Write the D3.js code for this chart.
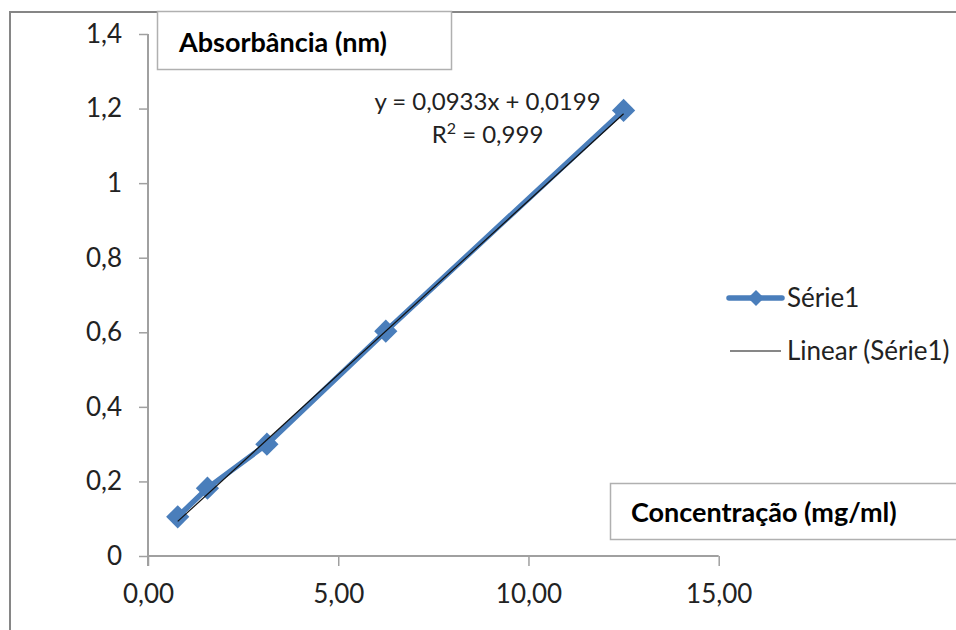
<!DOCTYPE html>
<html><head><meta charset="utf-8">
<script src="https://cdn.jsdelivr.net/npm/d3@7"></script>
<style>body{margin:0;background:#fff}svg{display:block}text{font-family:Lato,"Open Sans",sans-serif}</style>
</head><body><svg id="c" width="956" height="630"></svg>
<script>
const concentrations = [0.78125, 1.5625, 3.125, 6.25, 12.5];
const absorbances = [0.105, 0.182, 0.300, 0.603, 1.195];
const xTicks = [0, 5, 10, 15];
const yTicks = [0, 0.2, 0.4, 0.6, 0.8, 1, 1.2, 1.4];
const trendSlope = 0.0933, trendIntercept = 0.0199;
const equationText = "y = 0,0933x + 0,0199";
const r2Parts = ["R", "2", " = 0,999"];
const seriesName = "Série1", trendName = "Linear (Série1)";
const yTitle = "Absorbância (nm)", xTitle = "Concentração (mg/ml)";

const svg = d3.select("#c");
const blue = "#4a7ebb";
svg.append("rect").attr("x",10).attr("y",12).attr("width",980).attr("height",640)
  .attr("fill","#fff").attr("stroke","#868686").attr("stroke-width",2);

const x = d3.scaleLinear().domain([0,15]).range([148,718.7]);
const y = d3.scaleLinear().domain([0,1.4]).range([556,34]);
const fmtX = d => d3.format(".2f")(d).replace(".",",");
const fmtY = d => String(+d.toFixed(1)).replace(".",",");

const gx = svg.append("g").attr("transform","translate(0,556)")
  .call(d3.axisBottom(x).tickValues(xTicks).tickFormat(fmtX).tickSize(10).tickSizeOuter(0));
const gy = svg.append("g").attr("transform","translate(148,0)")
  .call(d3.axisLeft(y).tickValues(yTicks).tickFormat(fmtY).tickSize(9).tickPadding(17).tickSizeOuter(0));
[gx,gy].forEach(g=>{
  g.select(".domain").attr("stroke","#a0a0a0").attr("stroke-width",2);
  g.selectAll(".tick line").attr("stroke","#a0a0a0").attr("stroke-width",1.5);
  g.selectAll(".tick text").attr("fill","#222").style("font-size","26px").style("font-family","Lato,sans-serif");
});
gx.select(".domain").attr("d","M"+x(0)+",0H"+x(15));
gy.select(".domain").attr("d","M0,"+y(1.4)+"V"+(y(0)+10));
gx.selectAll(".tick text").attr("y",47).attr("dy","0");

const pts = concentrations.map((c,i)=>[c,absorbances[i]]);
svg.append("path").datum(pts).attr("fill","none").attr("stroke",blue).attr("stroke-width",5.5)
  .attr("stroke-linejoin","round")
  .attr("d",d3.line().x(d=>x(d[0])).y(d=>y(d[1])));
svg.selectAll(".pt").data(pts).join("path").attr("class","pt")
  .attr("transform",d=>`translate(${x(d[0])},${y(d[1])}) rotate(45)`)
  .attr("d",d3.symbol().type(d3.symbolSquare).size(270)).attr("fill",blue);
const tx = d3.extent(concentrations);
svg.append("line").attr("x1",x(tx[0])).attr("y1",y(trendSlope*tx[0]+trendIntercept))
  .attr("x2",x(tx[1])).attr("y2",y(trendSlope*tx[1]+trendIntercept))
  .attr("stroke","#111").attr("stroke-width",1.2);

svg.append("text").attr("x",487.5).attr("y",110).attr("text-anchor","middle")
  .style("font-size","24px").attr("fill","#222").text(equationText);
const r2 = svg.append("text").attr("x",487.5).attr("y",143).attr("text-anchor","middle")
  .style("font-size","24px").attr("fill","#222");
r2.append("tspan").text(r2Parts[0]);
r2.append("tspan").attr("dy",-9).style("font-size","16px").text(r2Parts[1]);
r2.append("tspan").attr("dy",9).text(r2Parts[2]);

// title boxes
svg.append("rect").attr("x",157.5).attr("y",11.5).attr("width",294).attr("height",58)
  .attr("fill","#fff").attr("stroke","#b0b0b0").attr("stroke-width",1.5);
svg.append("text").attr("x",179).attr("y",52).style("font-size","27px").style("font-weight","bold")
  .attr("fill","#000").text(yTitle);
svg.append("rect").attr("x",610.5).attr("y",483.5).attr("width",360).attr("height",56)
  .attr("fill","#fff").attr("stroke","#b0b0b0").attr("stroke-width",1.5);
svg.append("text").attr("x",631).attr("y",522).style("font-size","27px").style("font-weight","bold")
  .attr("fill","#000").text(xTitle);

// legend
const lg = svg.append("g");
lg.append("line").attr("x1",729).attr("x2",782).attr("y1",298).attr("y2",298)
  .attr("stroke",blue).attr("stroke-width",5.5).attr("stroke-linecap","round");
lg.append("path").attr("transform","translate(756,298) rotate(45)")
  .attr("d",d3.symbol().type(d3.symbolSquare).size(130)).attr("fill",blue);
lg.append("text").attr("x",787).attr("y",307).style("font-size","26px").attr("fill","#222").text(seriesName);
lg.append("line").attr("x1",730).attr("x2",781).attr("y1",351).attr("y2",351)
  .attr("stroke","#111").attr("stroke-width",1.2);
lg.append("text").attr("x",787).attr("y",360).style("font-size","26px").attr("fill","#222").text(trendName);
</script></body></html>
